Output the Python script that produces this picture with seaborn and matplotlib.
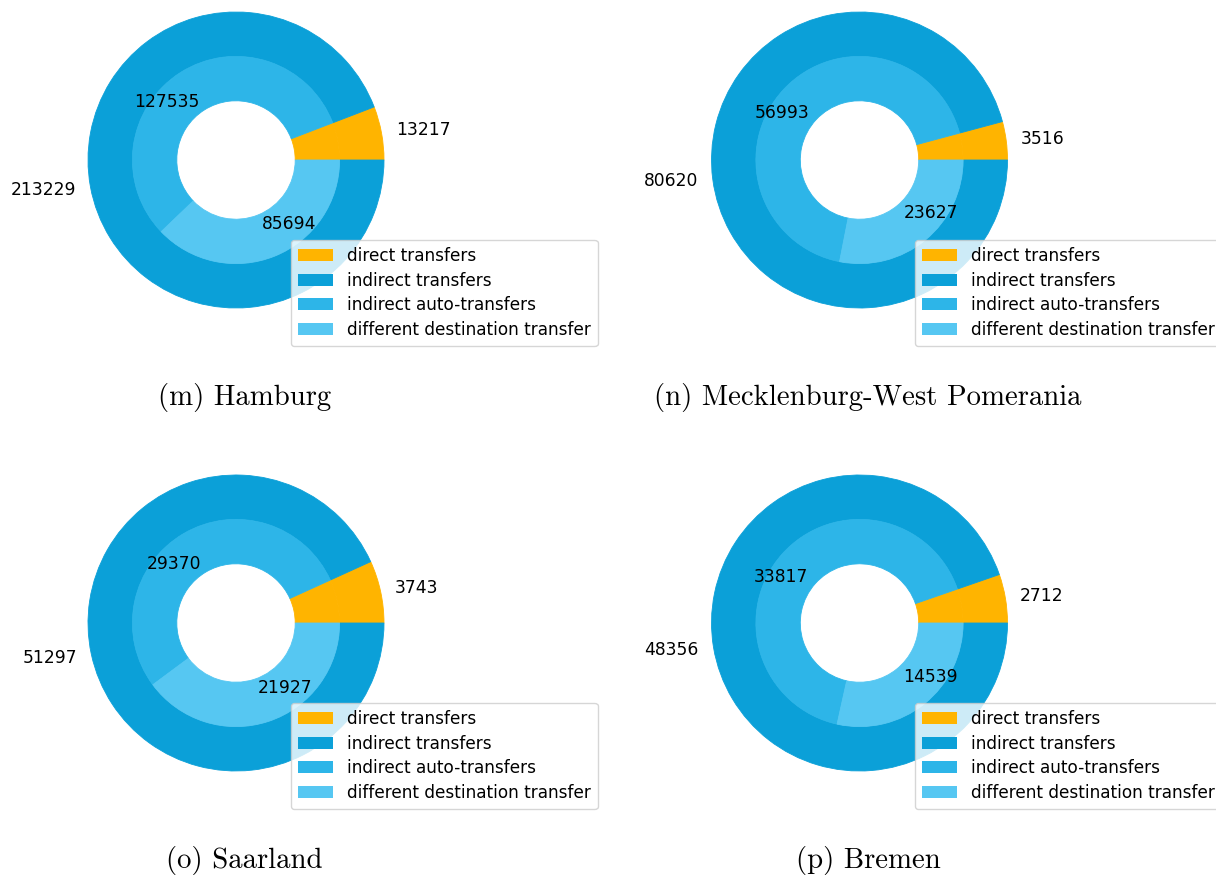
import matplotlib
matplotlib.use("Agg")
import matplotlib.pyplot as plt
from matplotlib.patches import Patch
import seaborn as sns

sns.set_style("white")
plt.rcParams["font.family"] = ["DejaVu Sans"]
plt.rcParams["text.color"] = "black"

# Transfer counts per federal state
regions = ["Hamburg", "Mecklenburg-West Pomerania", "Saarland", "Bremen"]
panel_tags = ["(m)", "(n)", "(o)", "(p)"]
direct = [13217, 3516, 3743, 2712]
indirect = [213229, 80620, 51297, 48356]
auto_transfers = [127535, 56993, 29370, 33817]
different_dest = [85694, 23627, 21927, 14539]
legend_labels = ["direct transfers", "indirect transfers",
                 "indirect auto-transfers", "different destination transfer"]

palette = sns.color_palette(["#FFB400", "#0BA0D8", "#2DB5E8", "#56C7F2"])

W, H, DPI = 1216, 875, 100
fig = plt.figure(figsize=(W / DPI, H / DPI), dpi=DPI)

R = 148  # donut radius in pixels
centers = [(236, 160), (859.5, 160), (236, 623), (859.5, 623)]
legend_corners = [(291, 240), (915, 240), (291, 703), (915, 703)]
caption_pos = [(244.5, 405), (868, 405), (244.5, 868), (868, 868)]
FS = 12.3
LEGEND_FS = 12.2


def seal_edges(wedges):
    # give each wedge an edge in its own colour so adjacent rings have no seam
    for w in wedges:
        w.set_edgecolor(w.get_facecolor())
        w.set_linewidth(0.6)


for i in range(4):
    cx, cy = centers[i]
    ax = fig.add_axes([(cx - R) / W, 1 - (cy + R) / H, 2 * R / W, 2 * R / H])

    # outer ring: direct vs indirect
    outer, _ = ax.pie([direct[i], indirect[i]], radius=1.0,
                      colors=[palette[0], palette[1]],
                      labels=[str(direct[i]), str(indirect[i])],
                      labeldistance=1.1, startangle=0,
                      wedgeprops=dict(width=0.3),
                      textprops=dict(fontsize=FS, color="black"))
    # inner ring: indirect split into auto / different destination
    inner, _ = ax.pie([direct[i], auto_transfers[i], different_dest[i]], radius=0.7,
                      colors=[palette[0], palette[2], palette[3]],
                      labels=["", str(auto_transfers[i]), str(different_dest[i])],
                      labeldistance=0.665, startangle=0,
                      wedgeprops=dict(width=0.3),
                      textprops=dict(fontsize=FS, color="black"))
    seal_edges(outer)
    seal_edges(inner)
    ax.set_xlim(-1, 1)
    ax.set_ylim(-1, 1)
    ax.set_aspect("equal")
    ax.axis("off")

    handles = [Patch(facecolor=c, edgecolor="none") for c in palette]
    lx, ly = legend_corners[i]
    fig.legend(handles, legend_labels, loc="upper left",
               bbox_to_anchor=(lx / W, 1 - ly / H),
               bbox_transform=fig.transFigure, borderaxespad=0,
               fontsize=LEGEND_FS, frameon=True, edgecolor="0.8", fancybox=True,
               handlelength=2.1, labelspacing=0.4, labelcolor="black")

    px, py = caption_pos[i]
    fig.text(px / W, 1 - py / H, f"{panel_tags[i]} {regions[i]}",
             ha="center", va="baseline", fontfamily="cmr10", fontsize=20.7,
             color="black")

fig.savefig("out.png", dpi=DPI)
